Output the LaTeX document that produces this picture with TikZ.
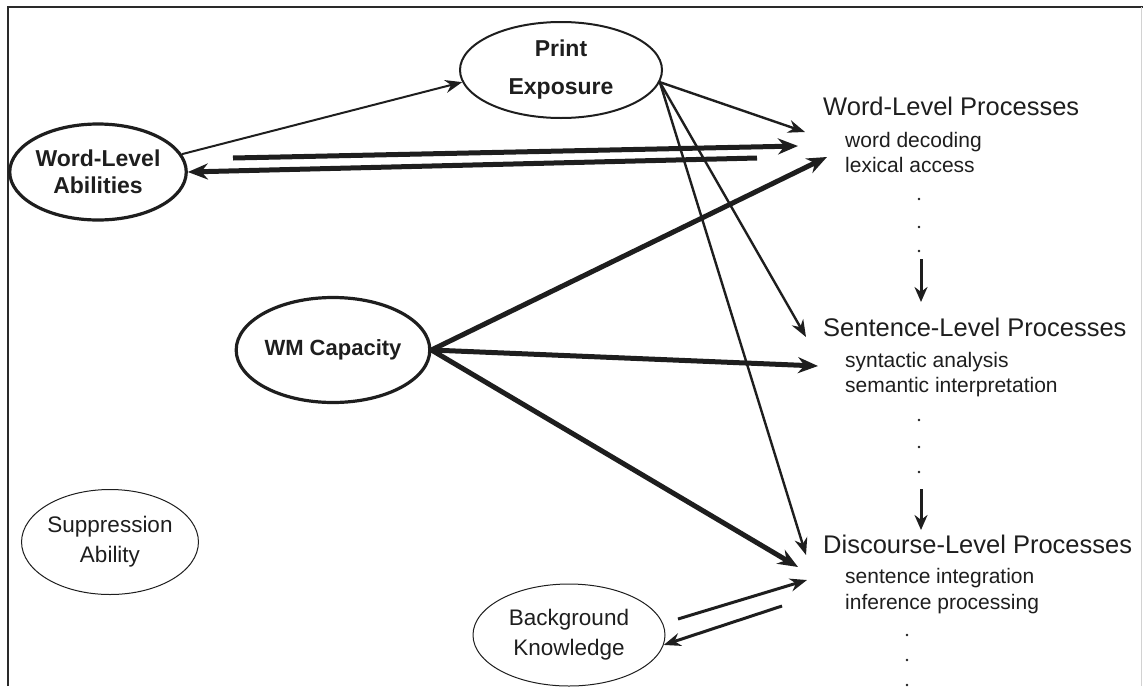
\documentclass[tikz,border=0pt]{standalone}
\usepackage{fontspec}
\setmainfont{Liberation Sans}
\usetikzlibrary{arrows.meta, shapes.geometric}
\definecolor{Ink}{HTML}{1E1E1E}
\definecolor{Frame}{HTML}{2A2A2A}
\tikzset{
  latent/.style={
    ellipse, draw=Ink, line width=#1,
    inner sep=0pt, align=center, text=Ink,
    font=\fontsize{23}{27}\selectfont\bfseries
  },
  latent/.default=3.2pt,
  factor/.style={
    ellipse, draw=Ink, line width=1pt,
    inner sep=0pt, align=center, text=Ink,
    font=\fontsize{22.5}{30}\selectfont
  },
  title/.style={anchor=base west, inner sep=0pt, text=Ink, font=\fontsize{25.5}{30}\selectfont},
  sub/.style={anchor=base west, inner sep=0pt, text=Ink, font=\fontsize{21}{25}\selectfont},
  arr/.style={-{Stealth[length=17pt, width=13pt]}, line width=2.4pt, color=Ink},
  bArr/.style={-{Stealth[length=20pt, width=16pt]}, line width=5pt, color=Ink},
  vArr/.style={-{Stealth[length=15pt, width=13pt]}, line width=3pt, color=Ink},
}

\begin{document}
\begin{tikzpicture}[x=1pt, y=-1pt]

\useasboundingbox (0,0) rectangle (1143,686);
\draw[line width=2pt, color=Frame] (8,686) -- (8,7) -- (1143,7);
\draw[line width=0.8pt, color=gray!35] (1141,7) -- (1141,686);

\node[latent=2pt, minimum width=202pt, minimum height=96pt,
  font=\fontsize{23}{38}\selectfont\bfseries] at (561,70) (pe) {Print\\Exposure};
\node[latent, minimum width=174pt, minimum height=96pt] at (98,172) (wla) {Word-Level\\Abilities};
\node[latent, minimum width=170pt, minimum height=105pt,
  font=\fontsize{22}{27}\selectfont\bfseries] at (333,350) (wm) {WM Capacity};
\node[factor, minimum width=170pt, minimum height=105pt] at (110,542) (sup) {Suppression\\Ability};
\node[factor, minimum width=192pt, minimum height=102pt] at (569,635) (bk) {Background\\Knowledge};

\node[title] at (823,115) (wlp) {Word-Level Processes};
\node[sub] at (845,147) (wlp1) {word decoding};
\node[sub] at (845,172) (wlp2) {lexical access};

\node[title] at (823,336) (slp) {Sentence-Level Processes};
\node[sub] at (845,367) (slp1) {syntactic analysis};
\node[sub] at (845,392) (slp2) {semantic interpretation};

\node[title] at (823,553) (dlp) {Discourse-Level Processes};
\node[sub] at (845,583) (dlp1) {sentence integration};
\node[sub] at (845,609) (dlp2) {inference processing};

\foreach \y in {199,227,251,420,447,472} \fill[Ink] (919,\y) circle (1.4pt);
\foreach \y in {635,660,685} \fill[Ink] (907,\y) circle (1.4pt);

\coordinate (wlaOut) at (233,158);
\coordinate (wlpIn) at (798,146);
\coordinate (wlpOut) at (757,158);
\coordinate (wlpP) at (805,132);
\coordinate (slpP) at (806,337);
\coordinate (dlpP) at (806,555);
\coordinate (wlpW) at (827,157);
\coordinate (slpW) at (818,366);
\coordinate (dlpW) at (798,567);
\coordinate (bkOut) at (678,619);
\coordinate (dlpB) at (807,580);
\coordinate (dlpOut) at (782,606);
\coordinate (wlpDown) at (921,259);
\coordinate (slpUp) at (921,302);
\coordinate (slpDown) at (921,489);
\coordinate (dlpUp) at (921,530);

\draw[arr, line width=2pt] (wla.12) -- (pe.187);
\draw[bArr] (wlaOut) -- (wlpIn);
\draw[bArr] (wlpOut) -- (wla.east);

\draw[arr] (pe.-7) -- (wlpP);
\draw[arr] (pe.-7) -- (slpP);
\draw[arr] (pe.-7) -- (dlpP);

\draw[bArr] (wm.east) -- (wlpW);
\draw[bArr] (wm.east) -- (slpW);
\draw[bArr] (wm.east) -- (dlpW);

\draw[arr, line width=3pt] (bkOut) -- (dlpB);
\draw[arr, line width=3pt] (dlpOut) -- (bk.-6);

\draw[vArr] (wlpDown) -- (slpUp);
\draw[vArr] (slpDown) -- (dlpUp);

\end{tikzpicture}
\end{document}
